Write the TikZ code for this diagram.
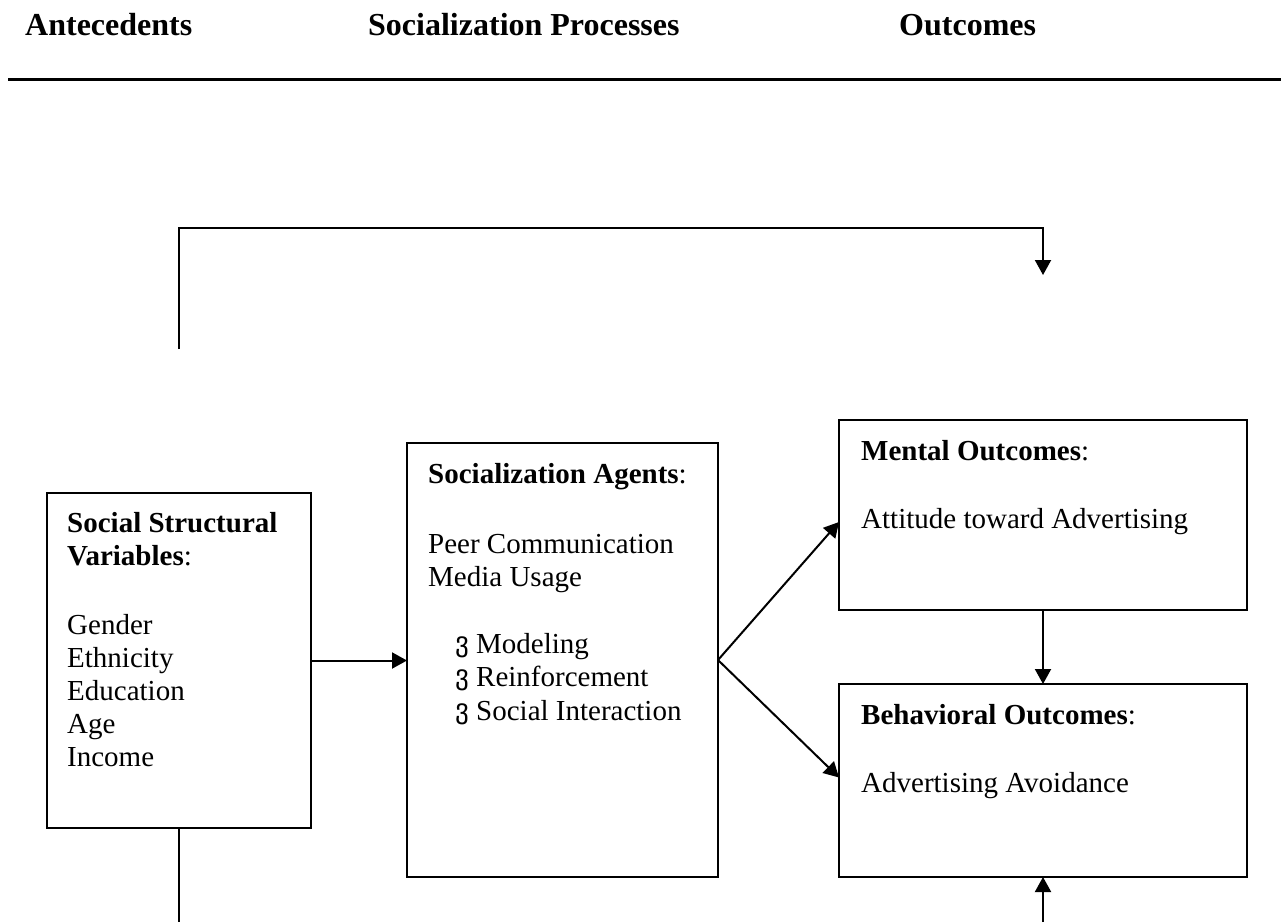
\documentclass[tikz,border=0pt]{standalone}
\usepackage{fontspec}
\setmainfont{Liberation Serif}
\newfontfamily\bulletfont{DejaVu Sans}
\usetikzlibrary{arrows.meta,calc}
\tikzset{
  boxnode/.style={draw,line width=2pt,inner sep=0pt,outer sep=0pt,anchor=north west},
  txt/.style={anchor=base west,inner sep=0pt,align=left,font=\fontsize{29}{33}\selectfont},
  head/.style={anchor=base west,inner sep=0pt,font=\fontsize{32}{36}\selectfont\bfseries},
  conn/.style={line width=2pt},
  arr/.style={line width=2pt,-{Triangle[width=16pt,length=15pt]}}
}
\newcommand{\bul}{\makebox[21pt][l]{\raisebox{2pt}{\bulletfont\fontsize{27}{27}\selectfont ვ}}}
\begin{document}
\begin{tikzpicture}[x=1pt,y=-1pt]
\useasboundingbox (0,0) rectangle (1281,922);
% header
\node[head] (h1) at (25,35) {Antecedents};
\node[head] (h2) at (368,35) {Socialization Processes};
\node[head] (h3) at (899,35) {Outcomes};
\coordinate (hl1) at (8,79);
\coordinate (hl2) at (1281,79);
\draw[line width=3pt] (hl1) -- (hl2);
% boxes
\node[boxnode,minimum width=264pt,minimum height=335pt] (ssv) at (47,493) {};
\node[boxnode,minimum width=311pt,minimum height=434pt] (sa) at (407,443) {};
\node[boxnode,minimum width=408pt,minimum height=190pt] (mo) at (839,420) {};
\node[boxnode,minimum width=408pt,minimum height=193pt] (bo) at (839,684) {};
% texts (anchor = baseline of the last line)
\node[txt] (t1) at (67,766) {\textbf{Social Structural}\\\textbf{Variables}:\\[36pt]Gender\\Ethnicity\\Education\\Age\\Income};
\node[txt] (t2) at (428,586) {\textbf{Socialization Agents}:\\[37pt]Peer Communication\\Media Usage};
\node[txt] (t3) at (455,720) {\bul Modeling\\[0.5pt]\bul Reinforcement\\[0.5pt]\bul Social Interaction};
\node[txt] (t4) at (861,528) {\textbf{Mental Outcomes}:\\[35pt]Attitude toward Advertising};
\node[txt] (t5) at (861,792) {\textbf{Behavioral Outcomes}:\\[35pt]Advertising Avoidance};
% connectors
\draw[arr] (ssv.east) -- (sa.west |- ssv.east);
\draw[arr] (sa.east) -- ($(mo.west)+(0,7)$);
\draw[arr] (sa.east) -- ($(bo.west)+(0,-3)$);
\draw[arr] (mo.south) -- (bo.north);
\coordinate (l1) at (179,349);
\coordinate (l2) at (1043,228);
\coordinate (l3) at (1043,275);
\draw[arr] (l1) |- (l2) -- (l3);
\coordinate (b1) at (179,922);
\draw[conn] (ssv.south) -- (b1);
\coordinate (b2) at (1043,922);
\draw[arr] (b2) -- (bo.south);
\end{tikzpicture}
\end{document}
